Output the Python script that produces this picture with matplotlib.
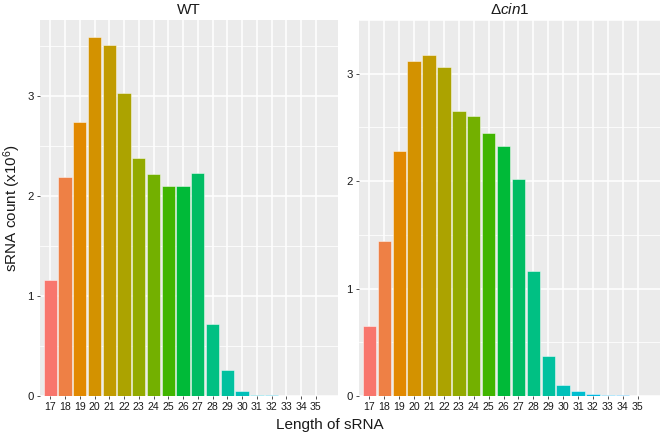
import numpy as np
import matplotlib
matplotlib.use("Agg")
import matplotlib.pyplot as plt

plt.rcParams['font.family'] = ['Liberation Sans', 'DejaVu Sans']
plt.rcParams['mathtext.fontset'] = 'custom'
plt.rcParams['mathtext.rm'] = 'Liberation Sans'
plt.rcParams['mathtext.it'] = 'Liberation Sans:italic'

lengths = list(range(17, 36))
wt_counts = [1.16, 2.19, 2.74, 3.59, 3.51, 3.03, 2.38, 2.22, 2.10, 2.10, 2.23,
             0.72, 0.26, 0.05, 0.015, 0.008, 0.002, 0.001, 0.001]
cin1_counts = [0.65, 1.44, 2.28, 3.12, 3.17, 3.06, 2.65, 2.61, 2.45, 2.33, 2.02,
               1.16, 0.37, 0.10, 0.045, 0.02, 0.01, 0.005, 0.004]
panel_titles = ['WT', r'Δ$\mathit{cin1}$']
y_ticks = [0, 1, 2, 3]
y_limits = [3.76, 3.33]


def hue_pal(n, h0=15.0, c=100.0, l=65.0):
    hues = np.linspace(h0, h0 + 360, n + 1)[:n]
    Xn, Yn, Zn = 95.047, 100.0, 108.883
    den = Xn + 15 * Yn + 3 * Zn
    un, vn = 4 * Xn / den, 9 * Yn / den
    out = []
    for h in hues:
        hr = np.deg2rad(h)
        u, v = c * np.cos(hr), c * np.sin(hr)
        Y = Yn * ((l + 16) / 116) ** 3 if l > 8 else Yn * l / 903.3
        up = u / (13 * l) + un
        vp = v / (13 * l) + vn
        X = 9 * Y * up / (4 * vp)
        Z = (12 - 3 * up - 20 * vp) * Y / (4 * vp)
        X, Y2, Z = X / 100, Y / 100, Z / 100
        r = 3.2404542 * X - 1.5371385 * Y2 - 0.4985314 * Z
        g = -0.9692660 * X + 1.8760108 * Y2 + 0.0415560 * Z
        b = 0.0556434 * X - 0.2040259 * Y2 + 1.0572252 * Z
        rgb = []
        for ch in (r, g, b):
            ch = max(ch, 0.0)
            ch = 12.92 * ch if ch <= 0.0031308 else 1.055 * ch ** (1 / 2.4) - 0.055
            rgb.append(min(max(ch, 0.0), 1.0))
        out.append(tuple(rgb))
    return out


colors = hue_pal(27)[:len(lengths)]

fig = plt.figure(figsize=(6.61, 4.4), dpi=100)
ax1 = fig.add_axes([40 / 661, 44 / 440, 298 / 661, 376 / 440])
ax2 = fig.add_axes([359 / 661, 44 / 440, 301 / 661, 376 / 440])

for ax, vals, title, ytop in zip([ax1, ax2], [wt_counts, cin1_counts], panel_titles, y_limits):
    ax.set_facecolor('#EBEBEB')
    for s in ax.spines.values():
        s.set_visible(False)
    ax.set_xlim(16.3, 36.5)
    ax.set_ylim(0, ytop)
    ax.set_yticks(y_ticks)
    ax.set_yticks([0.5, 1.5, 2.5, 3.5], minor=True)
    ax.set_xticks(lengths)
    ax.set_xticklabels([str(x) for x in lengths])
    ax.grid(True, which='major', color='white', linewidth=1.1)
    ax.grid(True, which='minor', axis='y', color='white', linewidth=0.55)
    ax.set_axisbelow(True)
    ax.tick_params(axis='both', which='major', length=2.5, width=0.6, color='#333333',
                   labelsize=8.2, labelcolor='#1a1a1a', pad=2)
    ax.tick_params(axis='x', labelsize=7.6, pad=1.5)
    ax.tick_params(which='minor', length=0)
    ax.bar(lengths, vals, width=0.9, color=colors, edgecolor=(1, 1, 1, 0.55), linewidth=0.6)
    ax.set_title(title, fontsize=11, pad=4, color='#1a1a1a')

fig.text(12 / 661, 1 - 208 / 440, r'sRNA count (x10$^{6}$)', rotation=90,
         ha='center', va='center', fontsize=11, color='#1a1a1a')
fig.text(330 / 661, 1 - 425 / 440, 'Length of sRNA', ha='center', va='center',
         fontsize=11, color='#1a1a1a')

fig.savefig('out.png', dpi=100)
